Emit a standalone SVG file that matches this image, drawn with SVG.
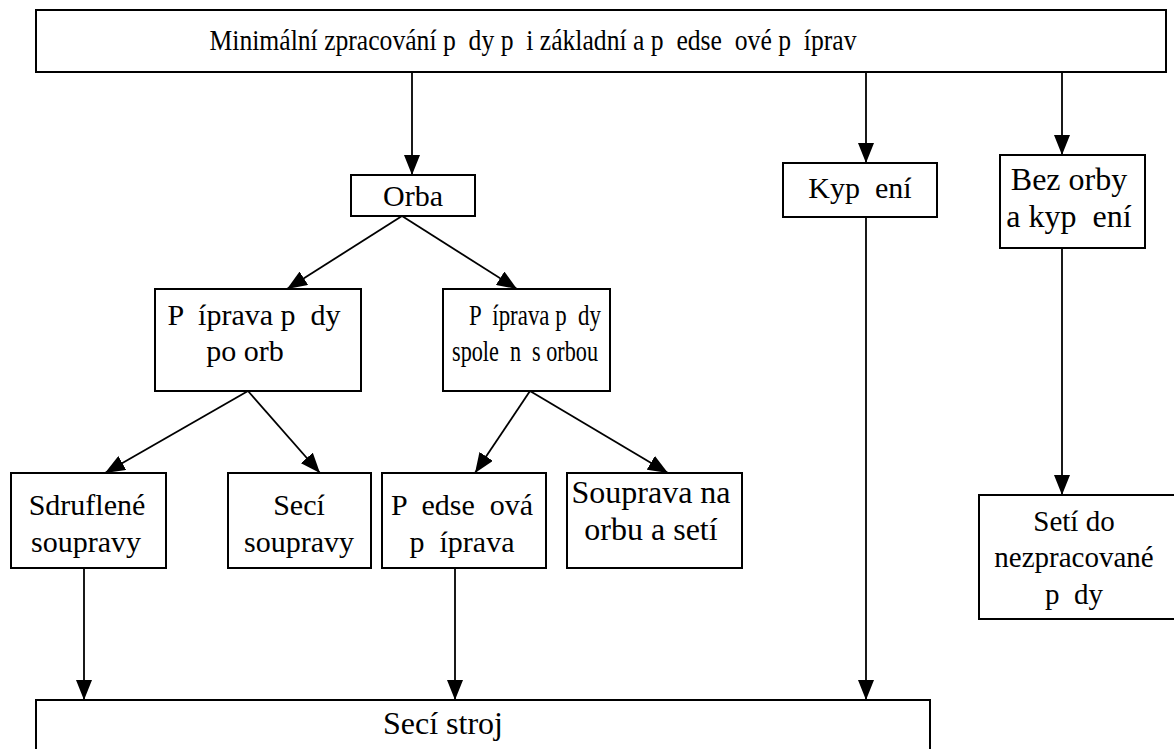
<svg xmlns="http://www.w3.org/2000/svg" width="1174" height="749" viewBox="0 0 1174 749">
<style>
rect{fill:#fff;stroke:#000;stroke-width:2}
text{font-size:30px;fill:#000;text-anchor:middle;white-space:pre}
.c{stroke:#000;stroke-width:1.8;fill:none}
</style>
<defs>
<marker id="ah" markerUnits="userSpaceOnUse" markerWidth="20" markerHeight="16" viewBox="0 0 20 16" refX="20" refY="8" orient="auto">
<path d="M0,0 L20,8 L0,16 Z" fill="#000"/>
</marker>
</defs>
<rect width="1174" height="749" style="fill:#fff;stroke:none"/>
<g id="connectors">
<line class="c" x1="412" y1="72" x2="412" y2="175" marker-end="url(#ah)"/>
<line class="c" x1="866" y1="72" x2="866" y2="163" marker-end="url(#ah)"/>
<line class="c" x1="1062" y1="72" x2="1062" y2="155" marker-end="url(#ah)"/>
<line class="c" x1="402" y1="216" x2="287" y2="289" marker-end="url(#ah)"/>
<line class="c" x1="402" y1="216" x2="517" y2="289" marker-end="url(#ah)"/>
<line class="c" x1="248" y1="391" x2="105" y2="473" marker-end="url(#ah)"/>
<line class="c" x1="248" y1="391" x2="320" y2="473" marker-end="url(#ah)"/>
<line class="c" x1="530" y1="391" x2="475" y2="473" marker-end="url(#ah)"/>
<line class="c" x1="530" y1="391" x2="668" y2="473" marker-end="url(#ah)"/>
<line class="c" x1="1062" y1="248" x2="1062" y2="495" marker-end="url(#ah)"/>
<line class="c" x1="84" y1="568" x2="84" y2="700" marker-end="url(#ah)"/>
<line class="c" x1="455" y1="568" x2="455" y2="700" marker-end="url(#ah)"/>
<line class="c" x1="866" y1="217" x2="866" y2="700" marker-end="url(#ah)"/>
</g>
<g font-family="Liberation Serif, serif">
<g id="n-top">
<rect x="36" y="10" width="1130" height="62"/>
<text x="533" y="50" style="font-size:29px" textLength="647" lengthAdjust="spacingAndGlyphs">Minimální zpracování p  dy p  i základní a p  edse  ové p  íprav</text>
</g>
<g id="n-orba">
<rect x="351" y="175" width="124" height="41"/>
<text x="413" y="206">Orba</text>
</g>
<g id="n-kypreni">
<rect x="783" y="163" width="154" height="54"/>
<text x="860" y="198">Kyp  ení</text>
</g>
<g id="n-bezorby">
<rect x="1000" y="155" width="145" height="93"/>
<text x="1069" y="190" style="font-size:32px">Bez orby</text>
<text x="1069" y="227" style="font-size:32px">a kyp  ení</text>
</g>
<g id="n-priprava-po">
<rect x="155" y="289" width="206" height="102"/>
<text x="254" y="325">P  íprava p  dy</text>
<text x="245" y="361">po orb</text>
</g>
<g id="n-priprava-spolecne">
<rect x="443" y="289" width="167" height="102"/>
<text x="535" y="325" textLength="132" lengthAdjust="spacingAndGlyphs">P  íprava p  dy</text>
<text x="525" y="361" textLength="146" lengthAdjust="spacingAndGlyphs">spole  n  s orbou</text>
</g>
<g id="n-sdruzene">
<rect x="11" y="473" width="155" height="95"/>
<text x="87" y="515">Sdruflené</text>
<text x="86" y="552">soupravy</text>
</g>
<g id="n-seci-soupravy">
<rect x="228" y="473" width="143" height="95"/>
<text x="299" y="515">Secí</text>
<text x="299" y="552">soupravy</text>
</g>
<g id="n-predsetova">
<rect x="382" y="473" width="164" height="95"/>
<text x="462" y="515">P  edse  ová</text>
<text x="462" y="552">p  íprava</text>
</g>
<g id="n-souprava">
<rect x="567" y="473" width="175" height="95"/>
<text x="651" y="503" style="font-size:32px">Souprava na</text>
<text x="651" y="540" style="font-size:32px">orbu a setí</text>
</g>
<g id="n-seti">
<rect x="979" y="495" width="197" height="124"/>
<text x="1074" y="531" style="font-size:29px">Setí do</text>
<text x="1074" y="567" style="font-size:29px">nezpracované</text>
<text x="1074" y="604" style="font-size:29px">p  dy</text>
</g>
<g id="n-seci-stroj">
<rect x="36" y="700" width="894" height="60"/>
<text x="443" y="734" style="font-size:32px">Secí stroj</text>
</g>
</g>
</svg>
